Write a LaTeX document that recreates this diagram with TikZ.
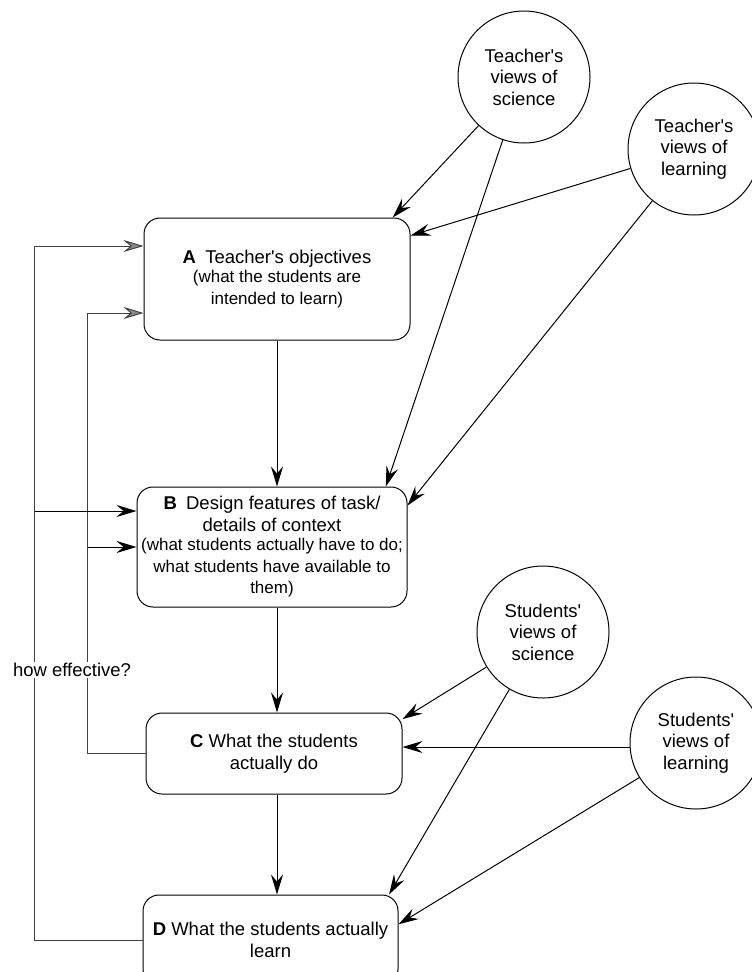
\documentclass[tikz,border=0pt]{standalone}
\usepackage{fontspec}
\setmainfont{Liberation Sans}
\usepackage{tikz}
\usetikzlibrary{shapes.geometric, arrows.meta, positioning, calc}
\newcommand{\stagefont}{\fontsize{18.5}{21.5}\selectfont}
\newcommand{\smallnotefont}{\fontsize{17}{20}\selectfont}
\newcommand{\apos}{\textquotesingle}
\tikzset{
  stagebox/.style={
    rectangle, rounded corners=16pt, draw=black, line width=1pt, fill=white,
    align=center, font=\stagefont, inner sep=2pt
  },
  viewcircle/.style={circle, draw=black, line width=1pt, fill=white, minimum size=132pt,
    inner sep=0pt, align=center, font=\stagefont},
  arrow/.style={-{Stealth[length=20pt, width=12pt, inset=7pt]}, line width=1pt, color=black},
  grayarrow/.style={-{Stealth[length=20pt, width=12pt, inset=7pt, fill=black!45]}, line width=1pt, color=black!75},
  fbline/.style={line width=1pt, color=black!75}
}
\begin{document}
\begin{tikzpicture}[x=1pt, y=-1pt]
  \clip (0,0) rectangle (752,972);
  \fill[white] (0,0) rectangle (752,972);
  % stages
  \node[stagebox, minimum width=266pt, minimum height=122pt] (A) at (277,279)
    {\textbf{A}\enspace Teacher\apos s objectives\\[-2pt]\smallnotefont (what the students are\\\smallnotefont intended to learn)};
  \node[stagebox, minimum width=270pt, minimum height=120pt] (B) at (272,547)
    {\textbf{B}\enspace Design features of task/\\details of context\\[-2pt]\smallnotefont (what students actually have to do;\\\smallnotefont what students have available to\\\smallnotefont them)};
  \node[stagebox, minimum width=256pt, minimum height=81pt] (C) at (274,753.5)
    {\textbf{C} What the students\\actually do};
  \node[stagebox, minimum width=255pt, minimum height=90pt] (D) at (270.5,940)
    {\textbf{D} What the students actually\\learn};
  % views
  \node[viewcircle] (TS) at (524,77) {Teacher\apos s\\views of\\science};
  \node[viewcircle] (TL) at (694,149) {Teacher\apos s\\views of\\learning};
  \node[viewcircle] (SS) at (543,632) {Students\apos\\views of\\science};
  \node[viewcircle] (SL) at (696,743) {Students\apos\\views of\\learning};
  % main sequence
  \draw[arrow] (A.south) -- (A.south |- B.north);
  \draw[arrow] (A.south |- B.south) -- (A.south |- C.north);
  \draw[arrow] (A.south |- C.south) -- (A.south |- D.north);
  % influences
  \draw[arrow] (TS) -- (A.28);
  \draw[arrow] (TS) -- (B.28);
  \draw[arrow] (TL) -- (A.18);
  \draw[arrow] (TL) -- (B.17);
  \draw[arrow] (SS) -- (C.15);
  \draw[arrow] (SS) -- (D.21);
  \draw[arrow] (SL.west |- 0,747) -- (C.east |- 0,747);
  \draw[arrow] (SL) -- (D.7);
  % feedback
  \coordinate (outerA) at ($(A.west)+(-109,-33)$);
  \coordinate (innerA) at ($(A.west)+(-56,34)$);
  \coordinate (Bup) at ($(B.west)+(0,-36)$);
  \draw[fbline] (D.west) -| (outerA);
  \draw[fbline] (C.west) -| (innerA);
  \draw[grayarrow] (outerA) -- (outerA -| A.west);
  \draw[grayarrow] (innerA) -- (innerA -| A.west);
  \draw[arrow] (outerA |- Bup) -- (Bup);
  \draw[arrow] (innerA |- B.west) -- (B.west);
  \node[fill=white, font=\stagefont, inner sep=1pt] (eff) at (72,670) {how effective?};
\end{tikzpicture}
\end{document}
